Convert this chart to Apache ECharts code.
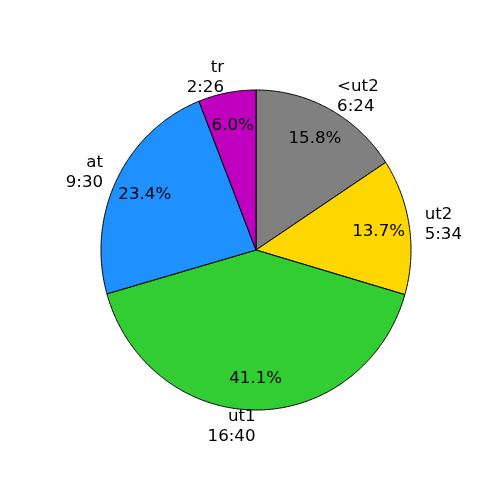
<!DOCTYPE html>
<html>
<head>
<meta charset="utf-8">
<script src="https://cdn.jsdelivr.net/npm/echarts@6/dist/echarts.min.js"></script>
<style>html,body{margin:0;padding:0;background:#fff}#c{width:500px;height:500px}</style>
</head>
<body>
<div id="c"></div>
<script>
const categories = ['<ut2', 'ut2', 'ut1', 'at', 'tr'];
const timeLabels = ['6:24', '5:34', '16:40', '9:30', '2:26'];
const minutes = [384, 334, 1000, 570, 146];
const colors = ['#808080', '#ffd700', '#32cd32', '#1e90ff', '#bf00bf'];

const total = minutes.reduce((a, b) => a + b, 0);
let acc = 0;
const sliceData = minutes.map((v, i) => {
  const s = acc / total;
  acc += v;
  return { value: [s, acc / total, v], name: categories[i] };
});

const chart = echarts.init(document.getElementById('c'), null, { renderer: 'canvas' });
const FONT = 'DejaVu Sans';
const FS = 16.67;

function renderItem(params, api) {
  const i = params.dataIndex;
  const f1 = api.value(0), f2 = api.value(1), v = api.value(2);
  const a1 = (90 - 360 * f1) * Math.PI / 180;
  const a2 = (90 - 360 * f2) * Math.PI / 180;
  const pts = [api.coord([0, 0])];
  const n = Math.max(2, Math.ceil(Math.abs(a2 - a1) / (Math.PI / 360)));
  for (let k = 0; k <= n; k++) {
    const a = a1 + (a2 - a1) * k / n;
    pts.push(api.coord([Math.cos(a), Math.sin(a)]));
  }
  const am = (a1 + a2) / 2;
  const lx = 1.1 * Math.cos(am), ly = 1.1 * Math.sin(am);
  const lp = api.coord([lx, ly]);
  const pp = api.coord([0.8 * Math.cos(am), 0.8 * Math.sin(am)]);
  return {
    type: 'group',
    children: [
      {
        type: 'polygon',
        shape: { points: pts },
        style: { fill: colors[i], stroke: '#000', lineWidth: 1, lineJoin: 'miter' },
        z2: 1
      },
      {
        type: 'text',
        x: lp[0], y: lp[1] + 1,
        style: {
          text: categories[i] + '\n' + timeLabels[i],
          fontFamily: FONT, fontSize: FS, lineHeight: 20,
          fill: '#000',
          align: lx > 0 ? 'left' : 'right',
          verticalAlign: 'middle'
        },
        z2: 10
      },
      {
        type: 'text',
        x: pp[0], y: pp[1] + 1,
        style: {
          text: (v / total * 100).toFixed(1) + '%',
          fontFamily: FONT, fontSize: FS, lineHeight: 20,
          fill: '#000',
          align: 'center',
          verticalAlign: 'middle'
        },
        z2: 10
      }
    ]
  };
}

chart.setOption({
  animation: false,
  backgroundColor: '#ffffff',
  grid: { left: 62.25, right: 50.25, top: 50, bottom: 50, containLabel: false },
  xAxis: { type: 'value', min: -1.25, max: 1.25, show: false },
  yAxis: { type: 'value', min: -1.25, max: 1.25, show: false },
  series: [{
    type: 'custom',
    renderItem: renderItem,
    clip: false,
    encode: { x: 0, y: 1 },
    data: sliceData
  }]
});
</script>
</body>
</html>
